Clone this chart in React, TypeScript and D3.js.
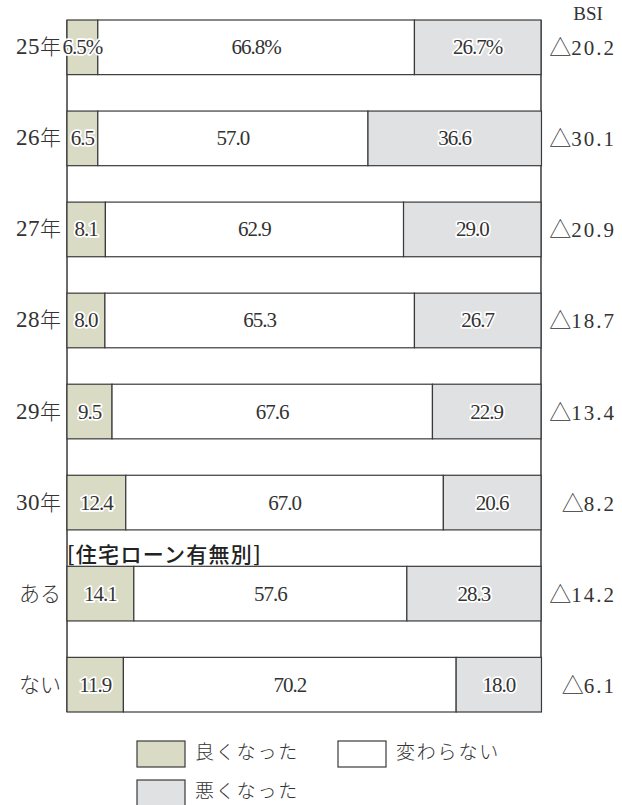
import React from "react";
import * as d3 from "d3";

const categories = ["25年", "26年", "27年", "28年", "29年", "30年", "ある", "ない"];
const better = [6.5, 6.5, 8.1, 8.0, 9.5, 12.4, 14.1, 11.9];
const same = [66.8, 57.0, 62.9, 65.3, 67.6, 67.0, 57.6, 70.2];
const worse = [26.7, 36.6, 29.0, 26.7, 22.9, 20.6, 28.3, 18.0];
const bsi = ["20.2", "30.1", "20.9", "18.7", "13.4", "8.2", "14.2", "6.1"];
const seriesNames = ["良くなった", "変わらない", "悪くなった"];
const colors = ["#d9dbc5", "#ffffff", "#e0e1e3"];

const W = 622, H = 805;
const left = 67, right = 541, top = 20, bottom = 712;

const serif = "'Liberation Serif', 'DejaVu Serif', serif";
const cjk = "'Noto Sans CJK JP', sans-serif";

function splitLabel(c: string) {
  const m = c.match(/^(\d+)(.*)$/);
  return m ? [m[1], m[2]] : ["", c];
}

export default function App() {
  const x = d3.scaleLinear().domain([0, 100]).range([left, right]);
  const y = d3.scaleBand<string>().domain(categories).range([top, bottom]).paddingInner(0.4);
  const stroke = "#3a3a3a";
  const textColor = "#333";
  const bw = y.bandwidth();

  return (
    <svg width={W} height={H} style={{ position: "absolute", left: 0, top: 0 }}>
      <rect x={0} y={0} width={W} height={H} fill="#fff" />
      <line x1={left} x2={left} y1={top} y2={bottom} stroke={stroke} strokeWidth={1.5} />
      <line x1={right} x2={right} y1={top} y2={bottom} stroke={stroke} strokeWidth={1.5} />
      {categories.map((c, i) => {
        const vals = [better[i], same[i], worse[i]];
        const y0 = y(c)!;
        const cy = y0 + bw / 2;
        let acc = 0;
        const segs = vals.map((v, j) => {
          const s = { x0: x(acc), x1: x(acc + v), v, j };
          acc += v;
          return s;
        });
        const [num, rest] = splitLabel(c);
        return (
          <g key={c}>
            {segs.map((s) => (
              <rect key={s.j} x={s.x0} y={y0} width={s.x1 - s.x0} height={bw}
                fill={colors[s.j]} stroke={stroke} strokeWidth={1.2} />
            ))}
            {segs.map((s) => (
              <text key={"t" + s.j} x={(s.x0 + s.x1) / 2} y={cy + 7}
                textAnchor="middle" fontFamily={serif} fontSize={21} fill={textColor}
                stroke={s.j === 1 ? "none" : "#fff"} strokeWidth={3.5} paintOrder="stroke"
                strokeLinejoin="round" letterSpacing={-1}>
                {s.v.toFixed(1) + (i === 0 ? "%" : "")}
              </text>
            ))}
            <text x={61} y={cy + 7} textAnchor="end" fill={textColor}>
              {num && <tspan fontFamily={serif} fontSize={23} letterSpacing={0.5}>{num}</tspan>}
              <tspan fontFamily={cjk} fontWeight={300} fontSize={21}>{rest}</tspan>
            </text>
            <text x={616} y={cy + 8} textAnchor="end" fill={textColor}>
              <tspan fontFamily={cjk} fontWeight={300} fontSize={22}>△</tspan>
              <tspan fontFamily={serif} fontSize={21} letterSpacing={2}>{bsi[i]}</tspan>
            </text>
          </g>
        );
      })}
      <text x={588} y={20} textAnchor="middle" fontFamily={serif} fontSize={19} fill={textColor}>BSI</text>
      <text x={67} y={562} fontFamily={cjk} fontSize={21} letterSpacing={1.3}
        fontWeight={500} fill="#222">[住宅ローン有無別]</text>
      {[
        { x: 137, y: 741, i: 0 },
        { x: 338, y: 741, i: 1 },
        { x: 137, y: 780, i: 2 },
      ].map((l) => (
        <g key={l.i}>
          <rect x={l.x} y={l.y} width={48} height={26} fill={colors[l.i]} stroke={stroke} strokeWidth={1.2} />
          <text x={l.x + 58} y={l.y + 18} fontFamily={cjk} fontWeight={300} fontSize={19}
            fill={textColor} letterSpacing={1.8}>{seriesNames[l.i]}</text>
        </g>
      ))}
    </svg>
  );
}
